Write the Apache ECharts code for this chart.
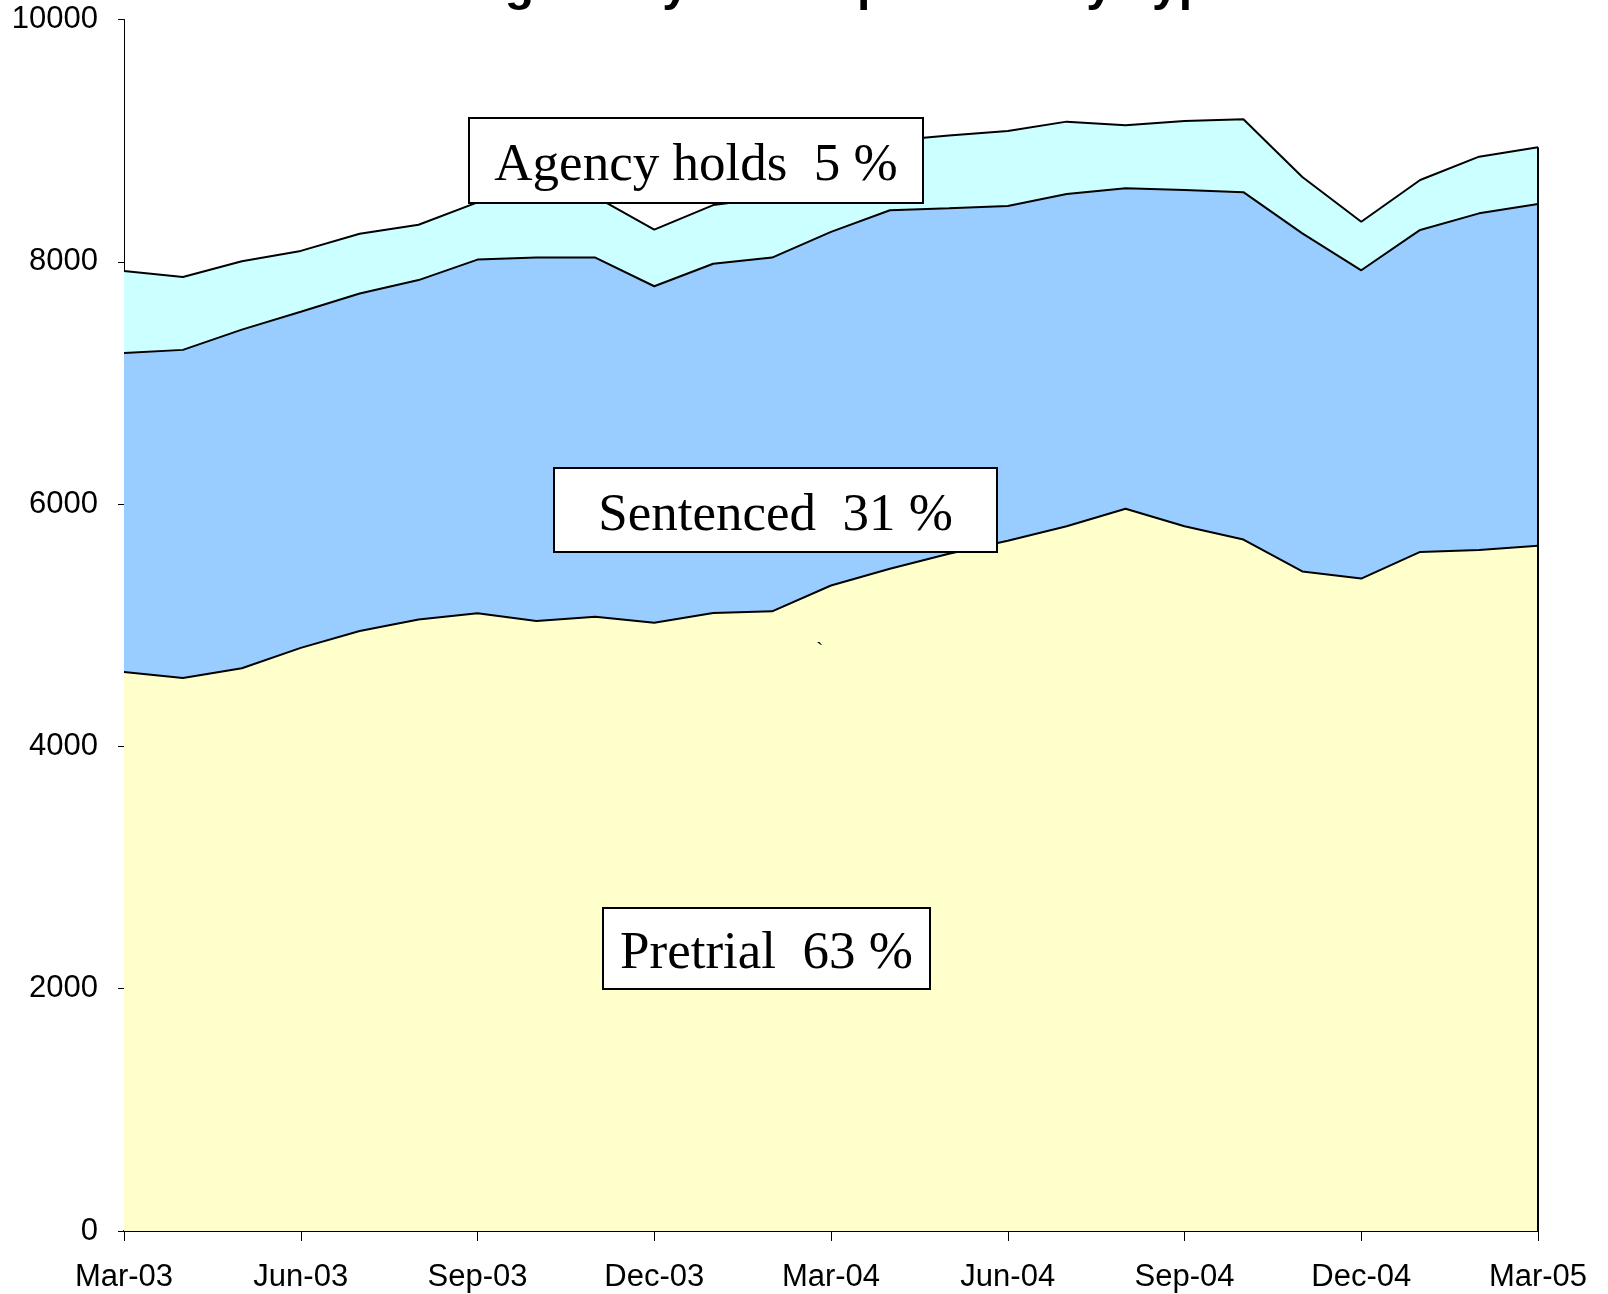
<!DOCTYPE html>
<html>
<head>
<meta charset="utf-8">
<title>Average Daily Jail Population by Type</title>
<script src="https://cdn.jsdelivr.net/npm/echarts@6/dist/echarts.min.js"></script>
<style>
    html, body { margin: 0; padding: 0; background: #fff; }
    #main { width: 1608px; height: 1294px; }
</style>
</head>
<body>
<div id="main"></div>
<script type="text/javascript">
    // months, Mar-03 .. Mar-05
    var months = ['Mar-03','Apr-03','May-03','Jun-03','Jul-03','Aug-03','Sep-03','Oct-03','Nov-03','Dec-03',
        'Jan-04','Feb-04','Mar-04','Apr-04','May-04','Jun-04','Jul-04','Aug-04','Sep-04','Oct-04','Nov-04','Dec-04',
        'Jan-05','Feb-05','Mar-05'];
    // average daily population per type
    var pretrial = [4614,4564,4645,4813,4953,5048,5100,5036,5070,5020,5102,5115,5328,5466,5590,5698,5817,5961,5817,5707,5444,5385,5605,5622,5656];
    var sentenced = [2634,2709,2795,2775,2786,2801,2918,2999,2965,2778,2882,2920,2919,2959,2851,2762,2743,2647,2776,2868,2791,2545,2658,2778,2821];
    var agencyHolds = [677,601,565,502,493,457,472,485,503,467,484,495,513,575,602,620,597,519,570,602,465,401,412,468,469];
    var yTicks = [0, 2000, 4000, 6000, 8000, 10000];

    var sansFont = '"Liberation Sans", Arial, sans-serif';
    var serifFont = '"Liberation Serif", "Times New Roman", serif';

    var last = months.length - 1;
    var lastTotal = pretrial[last] + sentenced[last] + agencyHolds[last];

    // white label box drawn over the areas
    function labelBox(x, y, w, h, text) {
        return {
            type: 'group',
            z: 100,
            children: [
                {
                    type: 'rect',
                    z: 100,
                    shape: { x: x, y: y, width: w, height: h },
                    style: { fill: '#fff', stroke: '#000', lineWidth: 2 }
                },
                {
                    type: 'text',
                    z: 101,
                    x: x + w / 2,
                    y: y + h / 2 + 6,
                    style: {
                        text: text,
                        fill: '#000',
                        font: '53px ' + serifFont,
                        align: 'center',
                        verticalAlign: 'middle'
                    }
                }
            ]
        };
    }

    function areaSeries(name, data, color) {
        return {
            name: name,
            type: 'line',
            stack: 'total',
            data: data,
            symbol: 'none',
            silent: true,
            z: 2,
            lineStyle: { color: '#000', width: 2 },
            areaStyle: { color: color, opacity: 1 }
        };
    }

    var myChart = echarts.init(document.getElementById('main'));
    var agencySeries = areaSeries('Agency holds', agencyHolds, '#CCFFFF');
    // right edge of the areas
    agencySeries.markLine = {
        silent: true,
        symbol: 'none',
        label: { show: false },
        lineStyle: { color: '#000', width: 2, type: 'solid' },
        data: [[{ coord: [months[last], 0] }, { coord: [months[last], lastTotal] }]]
    };

    var option = {
        animation: false,
        backgroundColor: '#fff',
        title: {
            text: 'Average Daily Jail Population by Type',
            left: 'center',
            top: -42,
            textStyle: { fontFamily: sansFont, fontSize: 48, fontWeight: 'bold', color: '#000' }
        },
        grid: { left: 124, right: 70, top: 19.5, bottom: 63 },
        xAxis: {
            type: 'category',
            boundaryGap: false,
            data: months,
            axisLine: { lineStyle: { color: '#000', width: 2 } },
            axisTick: { interval: 2, length: 10, lineStyle: { color: '#000' } },
            axisLabel: { interval: 2, margin: 31, color: '#000', fontFamily: sansFont, fontSize: 31 },
            splitLine: { show: false }
        },
        yAxis: {
            type: 'value',
            min: yTicks[0],
            max: yTicks[yTicks.length - 1],
            interval: yTicks[1] - yTicks[0],
            axisLine: { show: true, lineStyle: { color: '#000', width: 1 } },
            axisTick: { show: true, length: 6, lineStyle: { color: '#000' } },
            axisLabel: {
                margin: 26, color: '#000', fontFamily: sansFont, fontSize: 31,
                formatter: function (v) { return String(v); }
            },
            splitLine: { show: false }
        },
        series: [
            areaSeries('Pretrial', pretrial, '#FFFFCC'),
            areaSeries('Sentenced', sentenced, '#99CCFF'),
            agencySeries
        ],
        graphic: [
            labelBox(469, 118, 454, 85, 'Agency holds  5 %'),
            labelBox(554, 468, 443, 84, 'Sentenced  31 %'),
            labelBox(603, 908, 327, 81, 'Pretrial  63 %'),
            {
                // stray mark in the original
                type: 'text',
                z: 100,
                x: 816,
                y: 640,
                style: { text: '`', fill: '#000', font: '22px ' + serifFont }
            }
        ]
    };
    myChart.setOption(option);
</script>
</body>
</html>
